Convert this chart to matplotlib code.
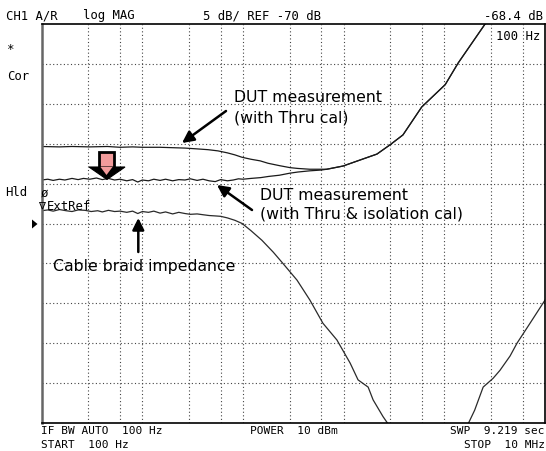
import matplotlib
matplotlib.use("Agg")
import matplotlib.pyplot as plt
from matplotlib.patches import Polygon

# ---------------- data ----------------
# DUT measurement (with Thru cal)
thru_freq = [100, 150, 200, 300, 450, 600, 800, 1000, 1500, 2000, 2650, 3500, 4500,
             5640, 7000, 8300, 9770, 12000, 14800, 17700, 23000, 29300, 35000, 46000,
             60000, 68000, 98400, 145000, 214000, 288000, 388000, 596000, 1020000,
             1370000, 2540000, 3000000]
thru_db = [-60.35, -60.4, -60.35, -60.4, -60.35, -60.45, -60.4, -60.45, -60.45, -60.5,
           -60.55, -60.65, -60.75, -60.9, -61.15, -61.4, -61.7, -61.95, -62.15, -62.45,
           -62.75, -63.0, -63.1, -63.2, -63.2, -63.2, -62.8, -62.05, -61.3, -60.15,
           -58.9, -55.4, -52.6, -49.9, -45.0, -44.0]

# DUT measurement (with Thru & isolation cal)
iso_freq = [100, 115, 130, 150, 170, 200, 230, 260, 300, 350, 400, 460, 530, 600, 700,
            800, 900, 1000, 1150, 1300, 1500, 1700, 2000, 2300, 2650, 3000, 3500, 4000,
            4600, 5300, 6000, 7000, 8000, 9000, 10000, 12000, 15000, 18000, 23000,
            29000, 35000, 46000, 60000, 68000, 98400, 145000, 214000, 288000, 388000,
            596000, 1020000, 1370000, 2540000, 3000000]
iso_db = [-64.55, -64.45, -64.6, -64.45, -64.55, -64.35, -64.5, -64.35, -64.45, -64.3,
          -64.5, -64.35, -64.55, -64.45, -64.65, -64.5, -64.8, -64.55, -64.65, -64.45,
          -64.6, -64.45, -64.65, -64.5, -64.55, -64.4, -64.6, -64.45, -64.65, -64.75,
          -64.5, -64.65, -64.55, -64.4, -64.45, -64.35, -64.25, -64.1, -63.95, -63.7,
          -63.55, -63.4, -63.3, -63.2, -62.8, -62.05, -61.3, -60.15, -58.9, -55.4,
          -52.6, -49.9, -45.0, -44.0]

# Cable braid impedance
cable_freq = [100, 115, 130, 150, 175, 200, 230, 270, 310, 360, 400, 460, 530, 600, 700,
              800, 900, 1000, 1150, 1300, 1500, 1700, 2000, 2300, 2650, 3000, 3500, 4000,
              4600, 5300, 6000, 7000, 8300, 9800, 12000, 15400, 20000, 24900, 34400,
              46200, 62200, 85700, 116000, 139000, 175000, 196000, 246000, 272000,
              320000, 600000, 1000000, 1400000, 1740000, 2000000, 2430000, 3050000,
              3570000, 4500000, 5270000, 7100000, 10000000]
cable_db = [-68.4, -68.3, -68.45, -68.25, -68.4, -68.5, -68.3, -68.35, -68.5, -68.4,
            -68.55, -68.35, -68.5, -68.45, -68.6, -68.45, -68.75, -68.5, -68.6, -68.45,
            -68.7, -68.55, -68.8, -68.6, -68.75, -68.85, -68.8, -68.9, -69.0, -69.05,
            -69.1, -69.3, -69.6, -70.0, -70.9, -72.1, -73.6, -75.0, -77.1, -79.6, -82.5,
            -84.6, -87.5, -89.6, -90.5, -92.1, -94.2, -95.0, -97.0, -100.0, -101.0,
            -98.0, -95.0, -93.4, -90.5, -89.4, -88.4, -86.6, -85.0, -82.5, -79.6]

grid_freqs = [290, 600, 1000, 2900, 6000, 10000, 29000, 60000, 100000, 290000,
              600000, 1000000, 2900000, 6000000]
grid_db = [-50, -55, -60, -65, -70, -75, -80, -85, -90]

W, H = 546, 451
fig = plt.figure(figsize=(W / 100, H / 100), dpi=100)
fig.patch.set_facecolor("white")


def px(x, y):
    return (x / W, 1 - y / H)


ax = fig.add_axes([41.7 / W, 1 - 423 / H, (545 - 41.7) / W, (423 - 24) / H])
ax.set_xscale("log")
ax.set_xlim(100, 1e7)
ax.set_ylim(-95, -45)
ax.set_xticks(grid_freqs)
ax.set_yticks(grid_db)
ax.minorticks_off()
ax.tick_params(length=0, labelbottom=False, labelleft=False)
ax.grid(True, color="#444444", linewidth=0.8, linestyle=(0, (1, 2.2)))
for s in ["top", "right", "bottom"]:
    ax.spines[s].set_linewidth(1.2)
    ax.spines[s].set_color("black")
ax.spines["left"].set_linewidth(1.8)
ax.spines["left"].set_color("#666666")

ax.plot(thru_freq, thru_db, color="#1a1a1a", lw=0.9)
ax.plot(iso_freq, iso_db, color="#1a1a1a", lw=0.9)
ax.plot(cable_freq, cable_db, color="#2a2a2a", lw=0.9)

mono = "DejaVu Sans Mono"
ms = 8.8
fs = 8.0
# header
fig.text(*px(6, 16), "CH1 A/R", family=mono, size=ms, va="center", ha="left")
fig.text(*px(83, 16), "log MAG", family=mono, size=ms, va="center", ha="left")
fig.text(*px(203, 16), "5 dB/ REF -70 dB", family=mono, size=ms, va="center", ha="left")
fig.text(*px(543, 16), "-68.4 dB", family=mono, size=ms, va="center", ha="right")
# footer
fig.text(*px(41, 431.5), "IF BW AUTO  100 Hz", family=mono, size=fs, va="center", ha="left")
fig.text(*px(250, 431.5), "POWER  10 dBm", family=mono, size=fs, va="center", ha="left")
fig.text(*px(545, 431.5), "SWP  9.219 sec", family=mono, size=fs, va="center", ha="right")
fig.text(*px(41, 444.5), "START  100 Hz", family=mono, size=fs, va="center", ha="left")
fig.text(*px(545, 444.5), "STOP  10 MHz", family=mono, size=fs, va="center", ha="right")
# left side
fig.text(*px(11, 49), "*", family=mono, size=ms, va="center", ha="center")
fig.text(*px(7, 77), "Cor", family=mono, size=ms, va="center", ha="left")
fig.text(*px(5, 193), "Hld", family=mono, size=ms, va="center", ha="left")
fig.text(*px(44, 193), "ø", family=mono, size=ms, va="center", ha="center")
fig.text(*px(41.5, 206), "∇", family="DejaVu Sans", size=7.5, va="center", ha="center")
fig.text(*px(47, 207), "ExtRef", family=mono, size=ms, va="center", ha="left")
fig.text(*px(540, 37), "100 Hz", family=mono, size=ms, va="center", ha="right")
fig.patches.append(Polygon([px(32, 219.5), px(32, 228.5), px(37.5, 224)], closed=True,
                           transform=fig.transFigure, facecolor="black", edgecolor="none"))

# annotations
af = "DejaVu Sans"
asz = 11.3
fig.text(*px(234, 97), "DUT measurement", family=af, size=asz, va="center", ha="left")
fig.text(*px(234, 118), "(with Thru cal)", family=af, size=asz, va="center", ha="left")
fig.text(*px(260, 196), "DUT measurement", family=af, size=asz, va="center", ha="left")
fig.text(*px(260, 214), "(with Thru & isolation cal)", family=af, size=asz, va="center", ha="left")
fig.text(*px(53, 267), "Cable braid impedance", family=af, size=asz, va="center", ha="left")

aprops = dict(arrowstyle="-|>,head_length=0.7,head_width=0.35", color="black", lw=1.8,
              shrinkA=0, shrinkB=0)
ax.annotate("", xy=px(182, 143), xytext=px(226, 111), xycoords="figure fraction",
            textcoords="figure fraction", arrowprops=aprops)
ax.annotate("", xy=px(217, 185), xytext=px(252, 210), xycoords="figure fraction",
            textcoords="figure fraction", arrowprops=aprops)
ax.annotate("", xy=px(138.3, 218), xytext=px(138.3, 252), xycoords="figure fraction",
            textcoords="figure fraction", arrowprops=aprops)

# pink block arrow
fig.patches.append(Polygon([px(99, 152), px(114, 152), px(114, 168), px(99, 168)],
                           closed=True, transform=fig.transFigure, facecolor="#f29b9b",
                           edgecolor="black", linewidth=2.0))
fig.patches.append(Polygon([px(89, 167), px(125, 167), px(107, 179.5)], closed=True,
                           transform=fig.transFigure, facecolor="black", edgecolor="black",
                           linewidth=0.8))
fig.patches.append(Polygon([px(100.5, 167), px(112.5, 167), px(106.5, 175)], closed=True,
                           transform=fig.transFigure, facecolor="#f29b9b", edgecolor="none"))

fig.savefig("out.png", dpi=100, facecolor="white")
